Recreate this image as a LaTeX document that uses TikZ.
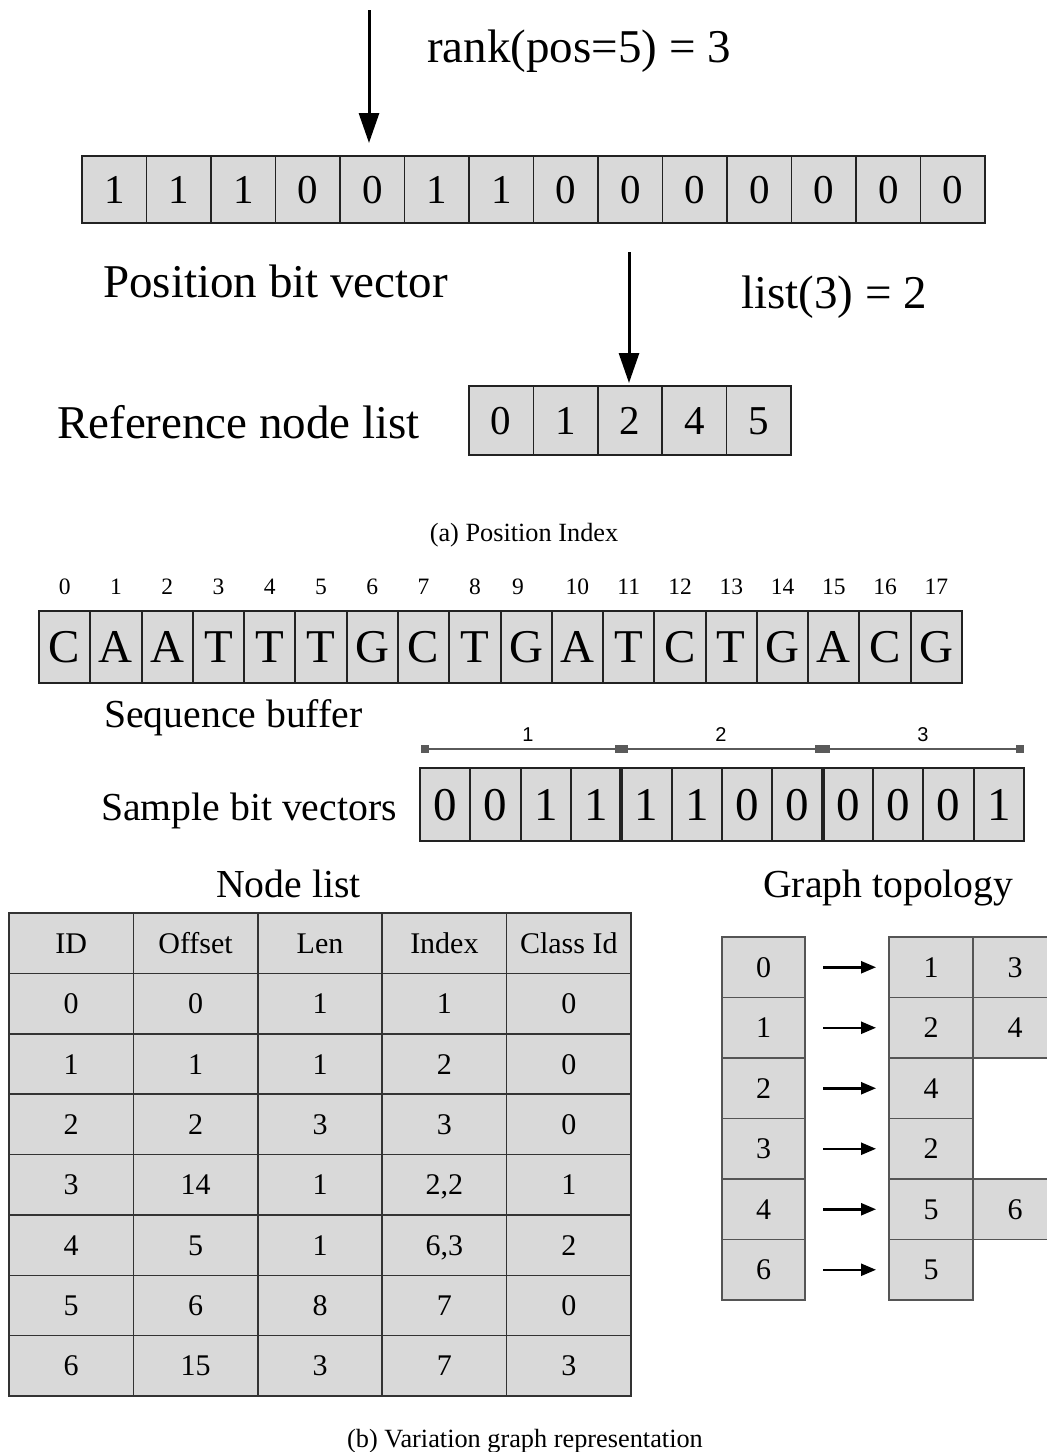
\documentclass[tikz,border=0pt]{standalone}
\usepackage{fontspec}
\setmainfont{Liberation Serif}
\newfontfamily\rulerfont{Liberation Sans}
\usetikzlibrary{arrows.meta,calc}
\definecolor{cellgray}{HTML}{D9D9D9}
\definecolor{edgedark}{HTML}{222222}
\definecolor{edgemid}{HTML}{333333}
\definecolor{edgegray}{HTML}{555555}
\definecolor{rulergray}{HTML}{5A5A5A}
\begin{document}
\begin{tikzpicture}[x=1pt,y=-1pt,
  bigtext/.style={font=\fontsize{47}{50}\selectfont,inner sep=0pt,anchor=base west},
  midtext/.style={font=\fontsize{39.7}{42}\selectfont,inner sep=0pt,anchor=base west},
  captext/.style={font=\fontsize{26.3}{28}\selectfont,inner sep=0pt,anchor=base},
  bitcell/.style={draw=edgedark,fill=cellgray,line width=1.5pt,inner sep=0pt,outer sep=0pt,
    minimum width=64.5pt,minimum height=67pt,font=\fontsize{41}{41}\selectfont,
    text height=27.7pt,text depth=0pt},
  refcell/.style={bitcell,minimum width=64.4pt,minimum height=69pt},
  seqcell/.style={draw=edgedark,fill=cellgray,line width=2pt,inner sep=0pt,outer sep=0pt,
    minimum width=51.28pt,minimum height=72pt,font=\fontsize{47}{47}\selectfont,
    text height=31.1pt,text depth=0pt},
  idxtext/.style={font=\fontsize{23.5}{24}\selectfont,inner sep=0pt,anchor=base},
  samcell/.style={draw=edgedark,fill=cellgray,line width=1.8pt,inner sep=0pt,outer sep=0pt,
    minimum width=50.33pt,minimum height=73pt,font=\fontsize{47}{47}\selectfont,
    text height=31.8pt,text depth=0pt},
  tabcell/.style={draw=edgemid,fill=cellgray,line width=1.5pt,inner sep=0pt,outer sep=0pt,
    minimum width=124.4pt,minimum height=60.375pt,font=\fontsize{30}{30}\selectfont,
    text height=20.3pt,text depth=0pt},
  topocell/.style={draw=edgegray,fill=cellgray,line width=1.5pt,inner sep=0pt,outer sep=0pt,
    minimum width=84pt,minimum height=60.5pt,font=\fontsize{30}{30}\selectfont,
    text height=20.3pt,text depth=0pt},
  bigarrow/.style={line width=3pt,-{Triangle[width=20pt,length=30pt]}},
  garrow/.style={line width=2.5pt,-{Triangle[width=12pt,length=15pt]}},
  rulerline/.style={draw=rulergray,line width=1.5pt},
  rulermark/.style={fill=rulergray,draw=none,inner sep=0pt,minimum height=8pt}
]
\useasboundingbox (0,0) rectangle (1047,1452);
\fill[white] (0,0) rectangle (1047,1452);

% ---------------- (a) Position index ----------------
\foreach \v [count=\i from 0] in {1,1,1,0,0,1,1,0,0,0,0,0,0,0}
  \node[bitcell] (b\i) at ({82+64.5*(\i+0.5)},189.5) {\v};
\draw[edgedark,line width=2.5pt] (b0.north west) rectangle (b13.south east);

\coordinate (atop) at (369,10);
\draw[bigarrow,shorten >=13pt] (atop) -- (atop |- b4.north);
\node[bigtext] (rank) at (427,62) {rank(pos=5) = 3};

\node[bigtext] (pbv) at (103,297) {Position bit vector};

\foreach \v [count=\i from 0] in {0,1,2,4,5}
  \node[refcell] (r\i) at ({469+64.4*(\i+0.5)},420.5) {\v};
\draw[edgedark,line width=2.5pt] (r0.north west) rectangle (r4.south east);

\coordinate (btop) at (629,252);
\draw[bigarrow,shorten >=3pt] (btop) -- (btop |- r2.north);
\node[bigtext] (listlbl) at (741,308) {list(3) = 2};

\node[bigtext] (rnl) at (57,438) {Reference node list};

\node[captext] (capa) at (524,541) {(a) Position Index};

% ---------------- (b) Variation graph ----------------
\foreach \v [count=\i from 0] in {C,A,A,T,T,T,G,C,T,G,A,T,C,T,G,A,C,G}
  \node[seqcell] (s\i) at ({39+51.28*(\i+0.5)},647) {\v};
\draw[edgedark,line width=2.5pt] (s0.north west) rectangle (s17.south east);

\foreach \i in {0,...,8,10,11,12,13,14,15,16,17}
  \node[idxtext] (n\i) at ($(s\i.north)+(0,-17)$) {\i};
\node[idxtext] (n9) at (518,594) {9};

\node[midtext] (sbuf) at (104,727) {Sequence buffer};

% ruler
\coordinate (ra) at (425,749);
\coordinate (rb) at (621,749);
\coordinate (rc) at (822,749);
\coordinate (rd) at (1020,749);
\draw[rulerline] (ra) -- (rd);
\node[rulermark,minimum width=8pt] (ma) at (ra) {};
\node[rulermark,minimum width=13pt] (mb) at (rb) {};
\node[rulermark,minimum width=15pt] (mc) at (rc) {};
\node[rulermark,minimum width=8pt] (md) at (rd) {};
\node[font=\rulerfont\fontsize{20}{20}\selectfont,inner sep=0pt,anchor=base] (l1) at (528,741) {1};
\node[font=\rulerfont\fontsize{20}{20}\selectfont,inner sep=0pt,anchor=base] (l2) at (721,741) {2};
\node[font=\rulerfont\fontsize{20}{20}\selectfont,inner sep=0pt,anchor=base] (l3) at (923,741) {3};

\foreach \v [count=\i from 0] in {0,0,1,1,1,1,0,0,0,0,0,1}
  \node[samcell] (v\i) at ({420+50.33*(\i+0.5)},804.5) {\v};
\draw[edgedark,line width=2.5pt] (v0.north west) rectangle (v11.south east);
\draw[edgedark,line width=4pt] (v4.north west) -- (v4.south west);
\draw[edgedark,line width=4pt] (v8.north west) -- (v8.south west);

\node[midtext] (sbv) at (101,820) {Sample bit vectors};

% node list table
\node[midtext] (nl) at (216,897) {Node list};
\foreach \a/\b/\c/\d/\e [count=\r from 0] in {ID/Offset/Len/Index/Class Id,
    0/0/1/1/0, 1/1/1/2/0, 2/2/3/3/0, 3/14/1/{2,2}/1, 4/5/1/{6,3}/2, 5/6/8/7/0, 6/15/3/7/3}{
  \node[tabcell] (t\r a) at ({9+124.4*0.5},{913+60.375*(\r+0.5)}) {\a};
  \node[tabcell] (t\r b) at ({9+124.4*1.5},{913+60.375*(\r+0.5)}) {\b};
  \node[tabcell] (t\r c) at ({9+124.4*2.5},{913+60.375*(\r+0.5)}) {\c};
  \node[tabcell] (t\r d) at ({9+124.4*3.5},{913+60.375*(\r+0.5)}) {\d};
  \node[tabcell] (t\r e) at ({9+124.4*4.5},{913+60.375*(\r+0.5)}) {\e};
}

% graph topology
\node[midtext] (gt) at (763,897) {Graph topology};
\foreach \l/\m [count=\k from 0] in {0/1,1/2,2/4,3/2,4/5,6/5}{
  \node[topocell,minimum width=83pt] (g\k) at (763.5,{937+60.5*(\k+0.5)}) {\l};
  \node[topocell] (h\k) at (931,{937+60.5*(\k+0.5)}) {\m};
  \draw[garrow,shorten <=18pt,shorten >=13pt] (g\k) -- (h\k);
}
\node[topocell] (x0) at (1015,{937+60.5*0.5}) {3};
\node[topocell] (x1) at (1015,{937+60.5*1.5}) {4};
\node[topocell] (x4) at (1015,{937+60.5*4.5}) {6};

\node[captext] (capb) at (525,1447) {(b) Variation graph representation};
\end{tikzpicture}
\end{document}
